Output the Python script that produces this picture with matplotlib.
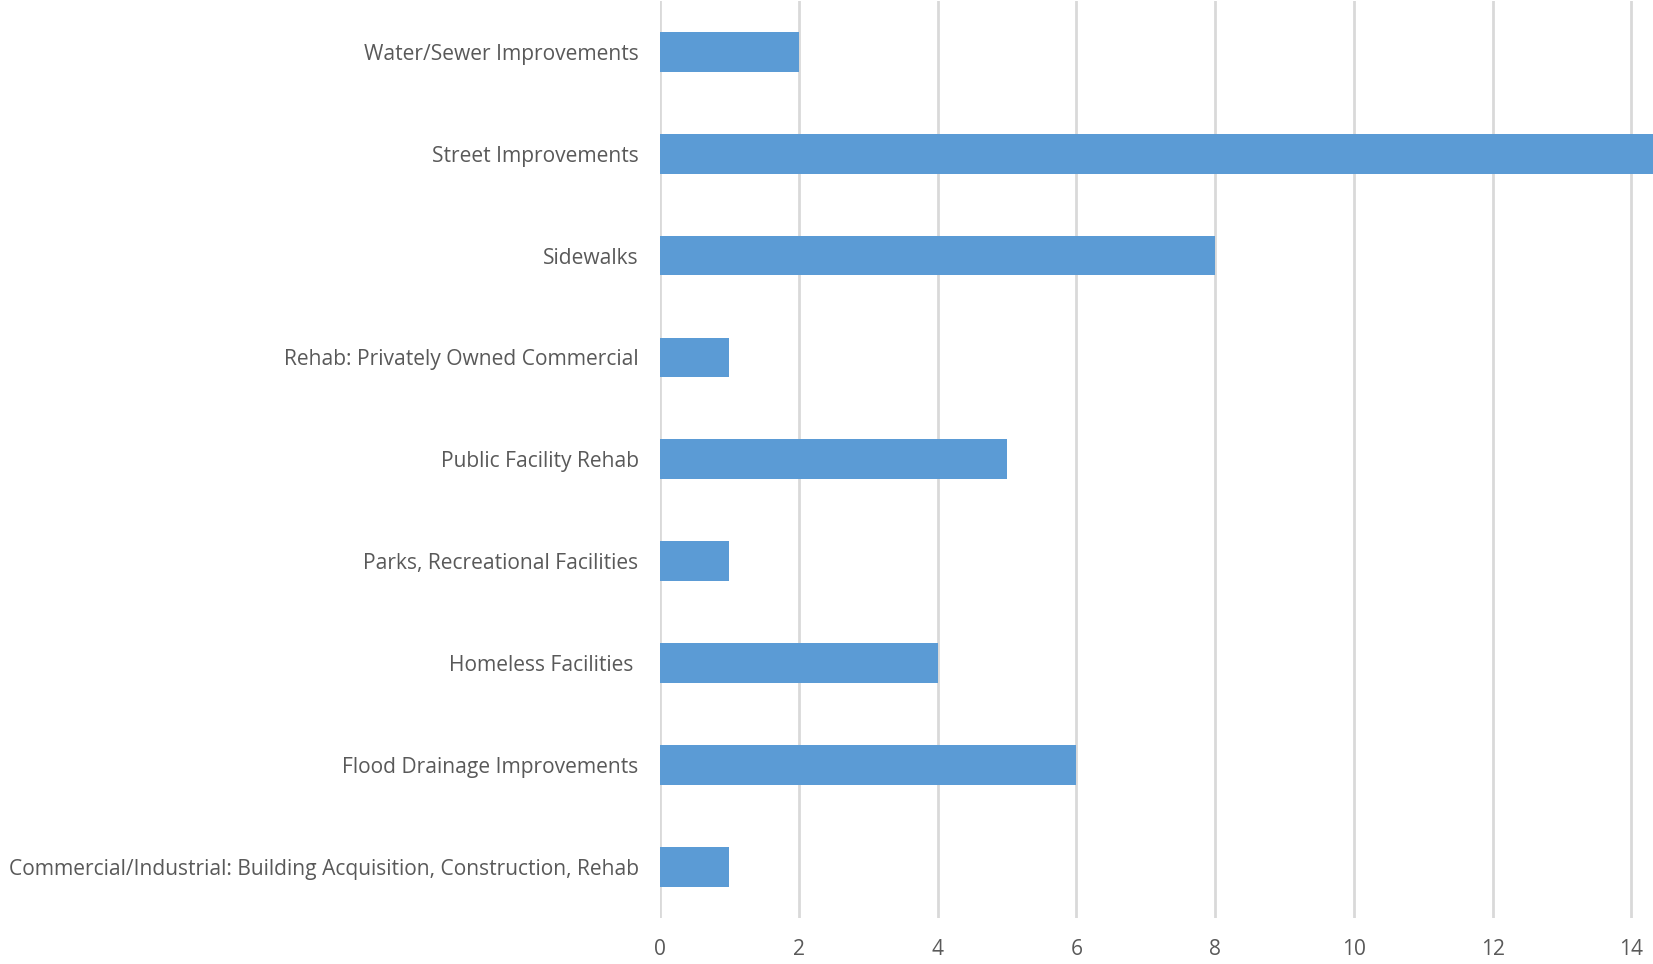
import matplotlib.pyplot as plt
from matplotlib import font_manager

categories = [
    "Commercial/Industrial: Building Acquisition, Construction, Rehab",
    "Flood Drainage Improvements",
    "Homeless Facilities ",
    "Parks, Recreational Facilities",
    "Public Facility Rehab",
    "Rehab: Privately Owned Commercial",
    "Sidewalks",
    "Street Improvements",
    "Water/Sewer Improvements",
]
counts = [1, 6, 4, 1, 5, 1, 8, 15, 2]
x_ticks = [0, 2, 4, 6, 8, 10, 12, 14]

names = {f.name for f in font_manager.fontManager.ttflist}
family = ["Liberation Sans Narrow", "DejaVu Sans"] if "Liberation Sans Narrow" in names else ["Open Sans", "DejaVu Sans"]
plt.rcParams['font.family'] = family

text_color = '#595959'
grid_color = '#D9D9D9'

fig = plt.figure(figsize=(16.53, 9.64), dpi=100)
ax = fig.add_axes([0.3993, 0.048, 0.6007, 0.951])

ax.barh(range(len(categories)), counts, height=0.39, color='#5B9BD5', zorder=3)

ax.set_xlim(0, 14.31)
ax.set_ylim(-0.5, len(categories) - 0.5)
ax.set_xticks(x_ticks)
ax.set_yticks(range(len(categories)))
ax.set_yticklabels(categories)

ax.grid(axis='x', color=grid_color, linewidth=2, zorder=0)
for s in ax.spines.values():
    s.set_visible(False)
ax.tick_params(axis='both', length=0, labelcolor=text_color, labelsize=15.1)
ax.tick_params(axis='y', pad=15.5)
ax.tick_params(axis='x', pad=15)

fig.savefig('out.png', dpi=100)
